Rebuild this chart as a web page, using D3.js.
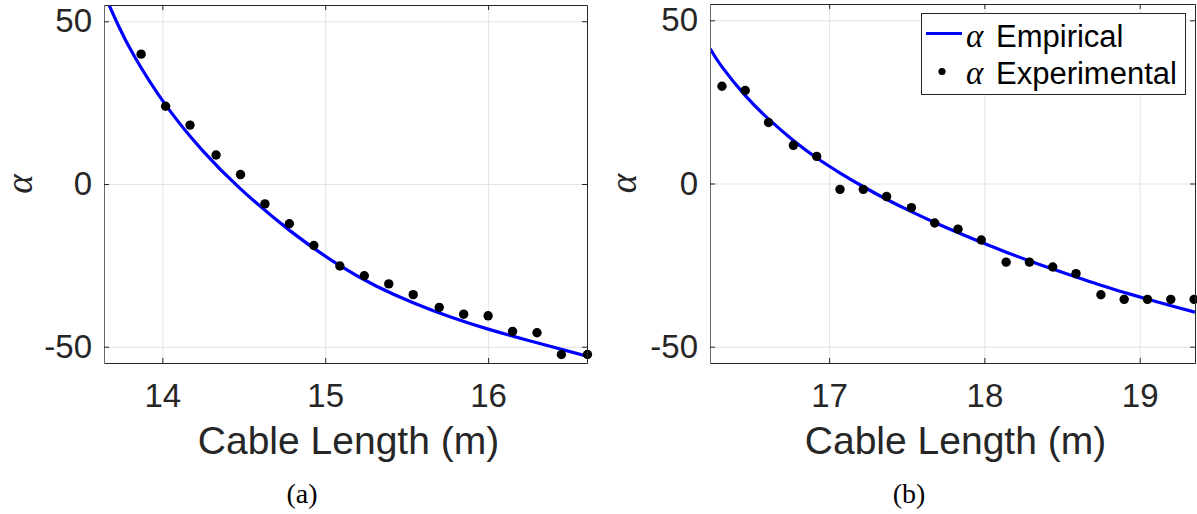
<!DOCTYPE html>
<html>
<head>
<meta charset="utf-8">
<script src="https://cdn.jsdelivr.net/npm/d3@7"></script>
<style>
  html, body { margin: 0; padding: 0; background: #fff; }
  svg { display: block; }
</style>
</head>
<body>
<svg id="chart" width="1197" height="514"></svg>
<script>
// ---------- DATA ----------
// Panel (a)
const aExpX = [13.87, 14.02, 14.17, 14.33, 14.48, 14.63, 14.78, 14.93, 15.09, 15.24, 15.39, 15.54, 15.70, 15.85, 16.00, 16.15, 16.30, 16.45, 16.61];
const aExpY = [39.9, 23.9, 18.1, 8.9, 2.9, -6.1, -12.2, -18.9, -25.2, -28.2, -30.7, -34.0, -37.9, -40.0, -40.5, -45.3, -45.7, -52.4, -52.4];
const aEmpX = [13.642, 13.73, 13.831, 14.02, 14.25, 14.48, 14.785, 15.09, 15.315, 15.54, 15.77, 16.0, 16.3, 16.607];
const aEmpY = [58.5, 48.7, 39.0, 24.3, 10.1, -1.5, -14.4, -25.1, -31.4, -36.5, -40.9, -44.6, -48.8, -52.9];
const aXTicks = [14, 15, 16];
const aXDomain = [13.642, 16.607];

// Panel (b)
const bExpX = [16.31, 16.46, 16.61, 16.77, 16.92, 17.07, 17.22, 17.37, 17.53, 17.68, 17.83, 17.98, 18.14, 18.29, 18.44, 18.59, 18.75, 18.90, 19.05, 19.20, 19.35];
const bExpY = [29.8, 28.5, 18.7, 11.7, 8.3, -1.8, -1.8, -4.0, -7.4, -12.1, -14.0, -17.3, -24.1, -24.1, -25.6, -27.6, -34.1, -35.5, -35.5, -35.5, -35.5];
const bEmpX = [16.234, 16.309, 16.459, 16.609, 16.77, 16.921, 17.071, 17.221, 17.372, 17.533, 17.683, 17.833, 17.983, 18.133, 18.283, 18.444, 18.595, 18.745, 18.895, 19.046, 19.196, 19.356];
const bEmpY = [41.3, 35.8, 27.0, 19.8, 13.2, 7.8, 3.2, -1.0, -4.9, -8.7, -12.0, -15.1, -18.1, -20.9, -23.6, -26.3, -28.7, -31.1, -33.3, -35.4, -37.4, -39.4];
const bXTicks = [17, 18, 19];
const bXDomain = [16.233, 19.356];

const yTicks = [-50, 0, 50];
const yDomain = [-55, 55];
const xLabel = "Cable Length (m)";
const yLabel = "α";
const captions = ["(a)", "(b)"];
const legendLabels = ["Empirical", "Experimental"];

// ---------- DRAW ----------
const svg = d3.select("#chart");
const AX = "#262626";
const SANS = "'Liberation Sans', Arial, Helvetica, sans-serif";
const SERIF = "'Liberation Serif', 'DejaVu Serif', serif";
const fmt = d => String(d);

const panels = [
  { box: { l: 104, r: 587, t: 5, b: 363 }, xDomain: aXDomain, xTicks: aXTicks,
    empX: aEmpX, empY: aEmpY, expX: aExpX, expY: aExpY, caption: captions[0], capX: 302, yLabX: 32, legend: false },
  { box: { l: 710, r: 1195, t: 4, b: 363 }, xDomain: bXDomain, xTicks: bXTicks,
    empX: bEmpX, empY: bEmpY, expX: bExpX, expY: bExpY, caption: captions[1], capX: 909, yLabX: 636, legend: true }
];

panels.forEach((p, i) => {
  const { l, r, t, b } = p.box;
  const x = d3.scaleLinear().domain(p.xDomain).range([l, r]);
  const y = d3.scaleLinear().domain(yDomain).range([b, t]);
  const g = svg.append("g");

  // grid
  const gridX = g.append("g").attr("transform", `translate(0,${b})`)
    .call(d3.axisBottom(x).tickValues(p.xTicks).tickSize(-(b - t)).tickFormat(""));
  const gridY = g.append("g").attr("transform", `translate(${l},0)`)
    .call(d3.axisLeft(y).tickValues(yTicks).tickSize(-(r - l)).tickFormat(""));
  [gridX, gridY].forEach(s => {
    s.select(".domain").remove();
    s.selectAll("line").attr("stroke", "#e3e3e3").attr("stroke-width", 1);
  });

  // clip
  const clipId = "clip" + i;
  svg.append("clipPath").attr("id", clipId).append("rect")
    .attr("x", l).attr("y", t).attr("width", r - l).attr("height", b - t);

  // empirical curve
  const emp = p.empX.map((v, k) => [v, p.empY[k]]);
  g.append("path").datum(emp)
    .attr("clip-path", `url(#${clipId})`)
    .attr("fill", "none").attr("stroke", "#0000ff").attr("stroke-width", 3.2)
    .attr("d", d3.line().x(d => x(d[0])).y(d => y(d[1])).curve(d3.curveNatural));

  // experimental points
  const exp = p.expX.map((v, k) => [v, p.expY[k]]);
  g.append("g").selectAll("circle").data(exp).join("circle")
    .attr("cx", d => x(d[0])).attr("cy", d => y(d[1])).attr("r", 4.7)
    .attr("fill", "#000");

  // axes with inward ticks
  const bottom = g.append("g").attr("transform", `translate(0,${b})`)
    .call(d3.axisBottom(x).tickValues(p.xTicks).tickSizeInner(-5).tickSizeOuter(0).tickPadding(20.6).tickFormat(fmt));
  const left = g.append("g").attr("transform", `translate(${l},0)`)
    .call(d3.axisLeft(y).tickValues(yTicks).tickSizeInner(-5).tickSizeOuter(0).tickPadding(12).tickFormat(fmt));
  const top = g.append("g").attr("transform", `translate(0,${t})`)
    .call(d3.axisTop(x).tickValues(p.xTicks).tickSizeInner(-5).tickSizeOuter(0).tickFormat(""));
  const right = g.append("g").attr("transform", `translate(${r},0)`)
    .call(d3.axisRight(y).tickValues(yTicks).tickSizeInner(-5).tickSizeOuter(0).tickFormat(""));
  [bottom, left, top, right].forEach(s => {
    s.select(".domain").attr("stroke", AX).attr("stroke-width", 1);
    s.selectAll(".tick line").attr("stroke", AX).attr("stroke-width", 1);
    s.selectAll(".tick text").attr("fill", AX).attr("font-family", SANS).attr("font-size", 33);
  });
  left.select(".domain").attr("stroke", "#6a6a6a");

  // x label
  g.append("text").attr("x", (l + r) / 2 + 3).attr("y", 454)
    .attr("text-anchor", "middle").attr("fill", AX)
    .attr("font-family", SANS).attr("font-size", 39).text(xLabel);

  // y label (alpha)
  g.append("text").attr("transform", `translate(${p.yLabX},${(t + b) / 2}) rotate(-90)`)
    .attr("text-anchor", "middle").attr("fill", AX)
    .attr("font-family", SERIF).attr("font-style", "italic").attr("font-size", 37).text(yLabel);

  // caption
  g.append("text").attr("x", p.capX).attr("y", 503)
    .attr("text-anchor", "middle").attr("fill", "#000")
    .attr("font-family", SERIF).attr("font-size", 28).text(p.caption);

  // legend
  if (p.legend) {
    const lg = g.append("g");
    lg.append("rect").attr("x", 921.5).attr("y", 13.5).attr("width", 264).attr("height", 81)
      .attr("fill", "#fff").attr("stroke", AX).attr("stroke-width", 1);
    lg.append("line").attr("x1", 926).attr("x2", 962).attr("y1", 33.5).attr("y2", 33.5)
      .attr("stroke", "#0000ff").attr("stroke-width", 3);
    lg.append("circle").attr("cx", 942).attr("cy", 71.5).attr("r", 3.6).attr("fill", "#000");
    const rowsY = [46.5, 83.5];
    legendLabels.forEach((lab, k) => {
      lg.append("text").attr("x", 966).attr("y", rowsY[k])
        .attr("font-family", SERIF).attr("font-style", "italic").attr("font-size", 33)
        .attr("fill", "#000").text(yLabel);
      lg.append("text").attr("x", 996).attr("y", rowsY[k])
        .attr("font-family", SANS).attr("font-size", 31)
        .attr("fill", "#000").text(lab);
    });
  }
});
</script>
</body>
</html>
